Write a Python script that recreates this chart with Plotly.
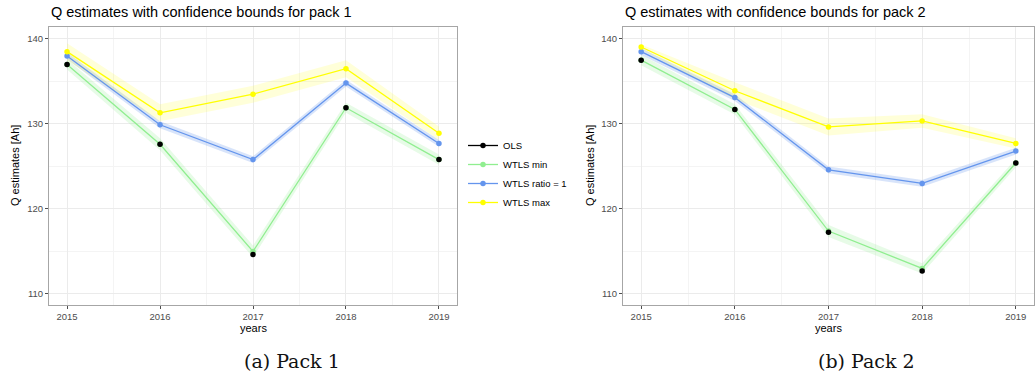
import plotly.graph_objects as go

# ---------------- data ----------------
years = [2015, 2016, 2017, 2018, 2019]

# Pack 1
p1_ols = [137.0, 127.6, 114.65, 131.9, 125.8]
p1_min = [137.0, 127.6, 115.0, 131.9, 125.8]
p1_ratio = [138.0, 129.9, 125.8, 134.8, 127.7]
p1_max = [138.5, 131.3, 133.5, 136.5, 128.9]
p1_min_hw = [0.6, 0.7, 0.7, 0.6, 0.6]
p1_ratio_hw = [0.4, 0.4, 0.4, 0.4, 0.4]
p1_max_hw = [1.0, 1.0, 1.0, 1.0, 0.8]

# Pack 2
p2_ols = [137.5, 131.7, 117.25, 112.7, 125.4]
p2_min = [137.5, 131.7, 117.4, 113.0, 125.4]
p2_ratio = [138.5, 133.1, 124.6, 123.0, 126.8]
p2_max = [139.05, 133.9, 129.65, 130.35, 127.7]
p2_min_hw = [0.6, 0.6, 0.7, 0.6, 0.5]
p2_ratio_hw = [0.4, 0.4, 0.4, 0.4, 0.4]
p2_max_hw = [0.3, 1.0, 1.0, 0.8, 0.6]

series_names = ["OLS", "WTLS min", "WTLS ratio = 1", "WTLS max"]
colors = {"OLS": "#000000", "WTLS min": "#90EE90",
          "WTLS ratio = 1": "#6495ED", "WTLS max": "#FFFF00"}
band_colors = {"WTLS min": "rgba(144,238,144,0.22)",
               "WTLS ratio = 1": "rgba(100,149,237,0.25)",
               "WTLS max": "rgba(255,255,0,0.15)"}

titles = ["Q estimates with confidence bounds for pack 1",
          "Q estimates with confidence bounds for pack 2"]
captions = ["(a) Pack 1", "(b) Pack 2"]

W, H = 1036, 378
fig = go.Figure()

panels = [
    dict(xa="x", ya="y", ols=p1_ols,
         lines={"WTLS min": (p1_min, p1_min_hw),
                "WTLS ratio = 1": (p1_ratio, p1_ratio_hw),
                "WTLS max": (p1_max, p1_max_hw)}),
    dict(xa="x2", ya="y2", ols=p2_ols,
         lines={"WTLS min": (p2_min, p2_min_hw),
                "WTLS ratio = 1": (p2_ratio, p2_ratio_hw),
                "WTLS max": (p2_max, p2_max_hw)}),
]

for pi, p in enumerate(panels):
    # bands
    for name in ["WTLS min", "WTLS ratio = 1", "WTLS max"]:
        vals, hw = p["lines"][name]
        lo = [v - h for v, h in zip(vals, hw)]
        hi = [v + h for v, h in zip(vals, hw)]
        fig.add_trace(go.Scatter(
            x=years + years[::-1], y=hi + lo[::-1], fill="toself",
            fillcolor=band_colors[name], line=dict(width=0), mode="lines",
            hoverinfo="skip", showlegend=False, xaxis=p["xa"], yaxis=p["ya"]))
    # lines
    for name in ["WTLS min", "WTLS ratio = 1", "WTLS max"]:
        vals, hw = p["lines"][name]
        fig.add_trace(go.Scatter(
            x=years, y=vals, mode="lines+markers", name=name,
            line=dict(color=colors[name], width=1.3),
            marker=dict(color=colors[name], size=5.5),
            showlegend=False, xaxis=p["xa"], yaxis=p["ya"]))
    # OLS points
    fig.add_trace(go.Scatter(
        x=years, y=p["ols"], mode="markers", name="OLS",
        marker=dict(color="#000000", size=5.5),
        showlegend=False, xaxis=p["xa"], yaxis=p["ya"]))

# legend proxies
for i, name in enumerate(series_names):
    fig.add_trace(go.Scatter(
        x=[None], y=[None], mode="lines+markers", name=name,
        line=dict(color=colors[name], width=1.3),
        marker=dict(color=colors[name], size=5.5),
        showlegend=True, legendrank=i + 1, xaxis="x", yaxis="y"))

tickfont = dict(family="Liberation Sans, Arial, sans-serif", size=9.5, color="#4d4d4d")
common_x = dict(
    range=[2014.806, 2019.194], tickvals=years, ticktext=[str(y) for y in years],
    showgrid=True, gridcolor="#ebebeb", gridwidth=1,
    minor=dict(tickvals=[2015.5, 2016.5, 2017.5, 2018.5], showgrid=True,
               gridcolor="#f4f4f4", ticks=""),
    showline=True, linecolor="#a6a6a6", linewidth=1, mirror=True,
    ticks="outside", ticklen=3, tickcolor="#4d4d4d", tickwidth=1,
    tickfont=tickfont, zeroline=False, fixedrange=True)
common_y = dict(
    range=[108.7, 141.4], tickvals=[110, 120, 130, 140],
    showgrid=True, gridcolor="#ebebeb", gridwidth=1,
    minor=dict(tickvals=[115, 125, 135], showgrid=True, gridcolor="#f4f4f4", ticks=""),
    showline=True, linecolor="#a6a6a6", linewidth=1, mirror=True,
    ticks="outside", ticklen=3, tickcolor="#4d4d4d", tickwidth=1,
    tickfont=tickfont, zeroline=False, fixedrange=True)

ydom = [1 - 305 / H, 1 - 27 / H]
fig.update_layout(
    width=W, height=H, margin=dict(l=0, r=0, t=0, b=0),
    paper_bgcolor="white", plot_bgcolor="white",
    xaxis=dict(common_x, domain=[49 / W, 457 / W], anchor="y"),
    yaxis=dict(common_y, domain=ydom, anchor="x"),
    xaxis2=dict(common_x, domain=[623 / W, 1034 / W], anchor="y2"),
    yaxis2=dict(common_y, domain=ydom, anchor="x2"),
    legend=dict(x=463 / W, y=1 - 131 / H, xanchor="left", yanchor="top",
                font=dict(family="Liberation Sans, Arial, sans-serif", size=9.5, color="#000"),
                bgcolor="rgba(0,0,0,0)", itemwidth=30, tracegroupgap=0),
    showlegend=True,
)

annots = []
font_title = dict(family="Liberation Sans, Arial, sans-serif", size=14.5, color="#000")
font_ax = dict(family="Liberation Sans, Arial, sans-serif", size=11, color="#000")
font_cap = dict(family="DejaVu Serif, Liberation Serif, serif", size=19, color="#111")
for left, right, ylab_x, title, cap, capx in [
        (49, 457, 15, titles[0], captions[0], 292),
        (623, 1034, 590, titles[1], captions[1], 866)]:
    annots.append(dict(text=title, x=left / W, y=1 - 12 / H, xref="paper", yref="paper",
                       xanchor="left", yanchor="middle", showarrow=False, font=font_title))
    annots.append(dict(text="years", x=(left + right) / 2 / W, y=1 - 328 / H,
                       xref="paper", yref="paper", xanchor="center", yanchor="middle",
                       showarrow=False, font=font_ax))
    annots.append(dict(text="Q estimates [Ah]", x=ylab_x / W, y=1 - 166 / H,
                       xref="paper", yref="paper", xanchor="center", yanchor="middle",
                       textangle=-90, showarrow=False, font=font_ax))
    annots.append(dict(text=cap, x=capx / W, y=1 - 361 / H, xref="paper", yref="paper",
                       xanchor="center", yanchor="middle", showarrow=False, font=font_cap))
fig.update_layout(annotations=annots)

fig.write_html("out.html")
